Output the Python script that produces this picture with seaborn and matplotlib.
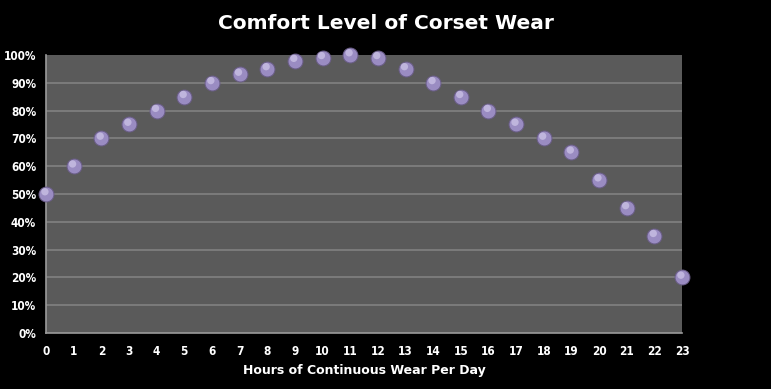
import matplotlib
matplotlib.use("Agg")
import pandas as pd
import matplotlib.pyplot as plt
import seaborn as sns
from matplotlib.ticker import PercentFormatter

sns.set_style("dark")

# data
hours = list(range(24))
comfort = [50, 60, 70, 75, 80, 85, 90, 93, 95, 98, 99, 100,
           99, 95, 90, 85, 80, 75, 70, 65, 55, 45, 35, 20]
df = pd.DataFrame({"hours": hours, "comfort": comfort})

plt.rcParams["font.family"] = ["DejaVu Sans"]

fig = plt.figure(figsize=(7.71, 3.89), dpi=100, facecolor="black")
ax = fig.add_axes([0.0597, 0.144, 0.8249, 0.7146])
ax.set_facecolor("#5a5a5a")

ax.grid(False)
for y in range(10, 100, 10):
    ax.axhline(y, color="#7e7e7e", lw=1.3, zorder=1)

# sphere markers with a soft highlight
sns.scatterplot(data=df, x="hours", y="comfort", ax=ax, s=115,
                color="#9a8cc2", edgecolor="#6a5d88", linewidth=0.7,
                zorder=3, clip_on=False)
ax.scatter(df["hours"] - 0.04, df["comfort"] + 0.8, s=28,
           color="#c9c0e4", edgecolor="none", alpha=0.8, zorder=4, clip_on=False)

ax.set_xlim(0, 23)
ax.set_ylim(0, 100)
ax.set_xticks(hours)
ax.set_yticks(range(0, 101, 10))
ax.yaxis.set_major_formatter(PercentFormatter(decimals=0))

for s in ["top", "right"]:
    ax.spines[s].set_visible(False)
ax.spines["left"].set_color("#9a9a9a")
ax.spines["bottom"].set_color("#9a9a9a")
ax.spines["left"].set_linewidth(1.2)
ax.spines["bottom"].set_linewidth(1.2)
ax.tick_params(axis="both", labelcolor="white", color="#9a9a9a", length=4,
               width=1, direction="out", labelsize=8.5)
ax.tick_params(axis="x", pad=5)
ax.tick_params(axis="y", pad=3)
for lbl in ax.get_xticklabels() + ax.get_yticklabels():
    lbl.set_fontweight("bold")
    lbl.set_fontstretch("condensed")

ax.set_xlabel("Hours of Continuous Wear Per Day", color="white",
              fontsize=9, fontweight="bold", labelpad=4)
ax.set_ylabel("")
fig.suptitle("Comfort Level of Corset Wear", color="white", fontsize=14.5,
             fontweight="bold", x=0.5, y=0.965)

fig.savefig("out.png", dpi=100, facecolor="black")
